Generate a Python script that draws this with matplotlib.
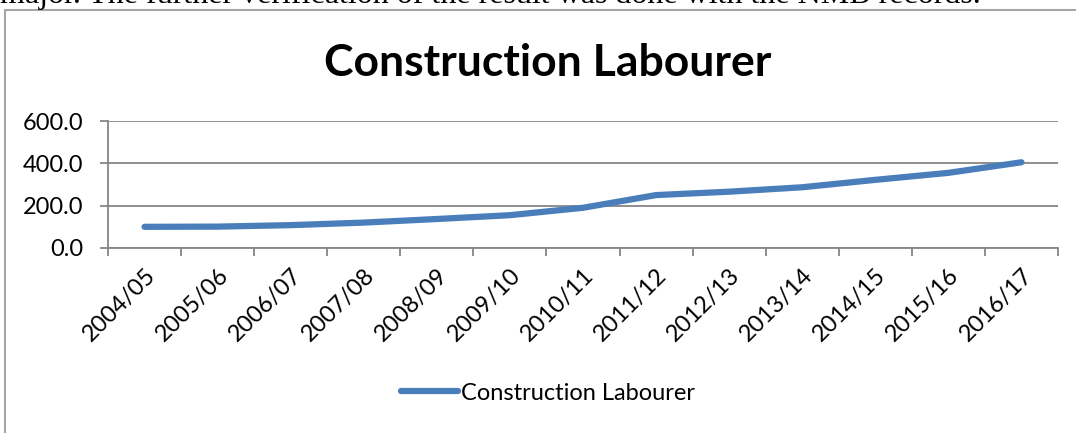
import matplotlib
matplotlib.use("Agg")
import matplotlib.pyplot as plt
import numpy as np
from matplotlib.patches import Rectangle

# Data
years = ["2004/05", "2005/06", "2006/07", "2007/08", "2008/09", "2009/10", "2010/11",
         "2011/12", "2012/13", "2013/14", "2014/15", "2015/16", "2016/17"]
wages = [100, 101, 108, 120, 137, 155, 190, 250, 266, 287, 322, 355, 405]

plt.rcParams['font.family'] = ['Lato', 'DejaVu Sans']
blue = '#4a7ebb'
grey = '#868686'

fig = plt.figure(figsize=(10.76, 4.33), dpi=100)
W, H = 1076, 433

# cut-off text line from the document above the chart
fig.text(0.0, 1 - 3 / H, "major. The further verification of the result was done with the NMB records.",
         family='Liberation Serif', fontsize=23, va='baseline', ha='left')

# chart frame
fig.patches.append(Rectangle((5 / W, -0.05), 1.2, 1 - 10 / H + 0.05, transform=fig.transFigure,
                             fill=False, edgecolor='#a6a6a6', lw=1.5))

ax = fig.add_axes([108 / W, 1 - 248 / H, 950 / W, 127 / H])
x = np.arange(len(years))
ax.plot(x, wages, color=blue, lw=4.5, solid_capstyle='round')
ax.set_xlim(-0.5, len(years) - 0.5)
ax.set_ylim(0, 600)
ax.set_yticks([0, 200, 400, 600])
ax.set_yticklabels([f"{v:.1f}" for v in [0, 200, 400, 600]], fontsize=17)
ax.yaxis.grid(True, color=grey, lw=1.3)
ax.set_axisbelow(True)

ax.set_xticks(x)
ax.set_xticklabels(years, rotation=45, ha='right', va='top', rotation_mode='anchor', fontsize=17)
ax.tick_params(axis='x', which='major', length=0, pad=12)
ax.set_xticks(np.arange(-0.5, len(years)), minor=True)
ax.tick_params(axis='x', which='minor', length=6, color=grey, width=1.3, direction='out')
ax.tick_params(axis='y', length=6, color=grey, width=1.3, direction='out', pad=12)

for s in ['top', 'right']:
    ax.spines[s].set_visible(False)
for s in ['left', 'bottom']:
    ax.spines[s].set_color(grey)
    ax.spines[s].set_linewidth(1.3)

fig.text(548 / W, 1 - 63 / H, "Construction Labourer", fontsize=32, fontweight='bold',
         ha='center', va='center')

leg = fig.legend([plt.Line2D([], [], color=blue, lw=4.5, solid_capstyle='round')],
                 ["Construction Labourer"], loc='center', bbox_to_anchor=(548 / W, 1 - 393 / H),
                 frameon=False, fontsize=17, handlelength=2.4, handletextpad=0.1)

fig.savefig("out.png", dpi=100)
